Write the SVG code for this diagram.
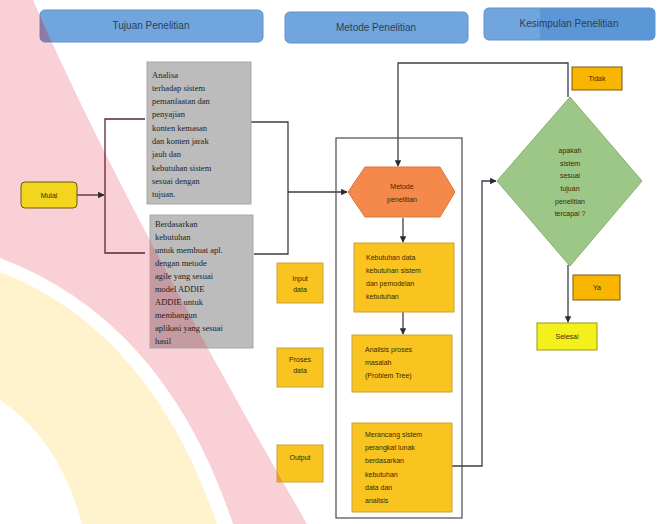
<svg xmlns="http://www.w3.org/2000/svg" width="658" height="524" viewBox="0 0 658 524">
<style>
.hdr{fill:#70a6dd;stroke:#5f93c8;stroke-width:1}
.ht{font-family:"Liberation Sans",Arial,sans-serif;font-size:10px;fill:#2b3f55;text-anchor:middle}
.gray{fill:#bcbcbc;stroke:#a8a8a8;stroke-width:1}
.gt{font-family:"Liberation Serif","Times New Roman",serif;font-size:8.5px;fill:#1e1e1e}
.yb{fill:#f9c320;stroke:#c9a23a;stroke-width:1}
.yt{font-family:"Liberation Sans",Arial,sans-serif;font-size:7px;fill:#3a2a00}
.ct{text-anchor:middle}
.lbl{fill:#f8b600;stroke:#7a5a10;stroke-width:1}
.ln{fill:none;stroke:#3c3c48;stroke-width:1.3}
.lnp{fill:none;stroke:#5a2535;stroke-width:1.3}
</style>
<defs>
<marker id="ar" viewBox="0 0 10 10" refX="9" refY="5" markerWidth="5" markerHeight="5" orient="auto-start-reverse">
<path d="M0,0 L10,5 L0,10 z" fill="#2a2a35"/>
</marker>
<clipPath id="g2clip"><rect x="150" y="215" width="103" height="133"/></clipPath>
<clipPath id="s3clip"><rect x="277" y="445" width="46" height="37"/></clipPath>
<clipPath id="h1clip"><rect x="40" y="10" width="223" height="32" rx="5"/></clipPath>
</defs>
<rect width="658" height="524" fill="#ffffff"/>
<g id="background">
<path id="pinkband" d="M0,0 L33,0 Q120,200 307,524 L233,524 Q165,320 0,258 Z" fill="#f8d0d5"/>
<path d="M0,272 Q150,330 217,524 L82,524 Q60,440 0,400 Z" fill="#fef3cc"/>
</g>
<g id="headers">
<g id="h1"><rect class="hdr" x="40" y="10" width="223" height="32" rx="5"/>
<path d="M0,0 L33,0 Q120,200 307,524 L233,524 Q165,320 0,258 Z" fill="#a06080" clip-path="url(#h1clip)" opacity="0.6"/>
<text class="ht" x="151" y="29">Tujuan Penelitian</text></g>
<g id="h2"><rect class="hdr" x="285" y="12" width="183" height="31" rx="5"/><text class="ht" x="376" y="31">Metode Penelitian</text></g>
<g id="h3"><rect class="hdr" x="484" y="8" width="171" height="32" rx="5"/><path d="M540,8 L650,8 Q655,8 655,13 L655,35 Q655,40 650,40 L540,40 Z" fill="#5b97d6"/><text class="ht" x="569" y="27">Kesimpulan Penelitian</text></g>
</g>
<g id="connectors">
<path class="lnp" d="M77,195 L104,195" marker-end="url(#ar)"/>
<path class="lnp" d="M145,119 L105,119 L105,253 L145,253"/>
<path class="ln" d="M251,122 L288,122 L288,254 L254,254"/>
<path class="ln" d="M288,192 L347,192" marker-end="url(#ar)"/>
<path class="ln" d="M568,97 L568,63 L398,63 L398,166" marker-end="url(#ar)"/>
<path class="ln" d="M403,218 L403,242" marker-end="url(#ar)"/>
<path class="ln" d="M403,312 L403,334" marker-end="url(#ar)"/>
<path class="ln" d="M452,466 L482,466 L482,181 L496,181" marker-end="url(#ar)"/>
<path class="ln" d="M568,265 L568,322" marker-end="url(#ar)"/>
<rect x="336" y="138" width="126" height="380" fill="none" stroke="#4a4a55" stroke-width="1.2"/>
</g>
<g id="mulai"><rect x="21" y="182" width="56" height="26" rx="4" fill="#f2d51c" stroke="#6a5a10" stroke-width="1"/><text class="yt ct" x="49" y="198">Mulai</text></g>
<g id="tujuan1"><rect class="gray" x="147" y="62" width="104" height="142"/>
<text class="gt" x="152" y="78">Analisa</text>
<text class="gt" x="152" y="91">terhadap sistem</text>
<text class="gt" x="152" y="104">pemanfaatan dan</text>
<text class="gt" x="152" y="117">penyajian</text>
<text class="gt" x="152" y="131">konten kemasan</text>
<text class="gt" x="152" y="144">dan konten jarak</text>
<text class="gt" x="152" y="157">jauh dan</text>
<text class="gt" x="152" y="171">kebutuhan sistem</text>
<text class="gt" x="152" y="184">sesuai dengan</text>
<text class="gt" x="152" y="197">tujuan.</text>
</g>
<g id="tujuan2"><rect class="gray" x="150" y="215" width="103" height="133"/>
<path d="M0,0 L33,0 Q120,200 307,524 L233,524 Q165,320 0,258 Z" fill="#c98f98" clip-path="url(#g2clip)" opacity="0.75"/>
<text class="gt" x="155" y="227">Berdasarkan</text>
<text class="gt" x="155" y="240">kebutuhan</text>
<text class="gt" x="155" y="253">untuk membuat apl.</text>
<text class="gt" x="155" y="266">dengan metode</text>
<text class="gt" x="155" y="279">agile yang sesuai</text>
<text class="gt" x="155" y="292">model ADDIE</text>
<text class="gt" x="155" y="305">ADDIE untuk</text>
<text class="gt" x="155" y="318">membangun</text>
<text class="gt" x="155" y="331">aplikasi yang sesuai</text>
<text class="gt" x="155" y="344">hasil</text>
</g>
<g id="metode"><path d="M365,167 L440,167 L455,192 L440,217 L365,217 L348,192 Z" fill="#f4894b" stroke="#d9743a" stroke-width="1"/>
<text class="yt ct" x="402" y="189">Metode</text><text class="yt ct" x="402" y="202">penelitian</text></g>
<g id="stepA"><rect class="yb" x="354" y="243" width="100" height="69"/>
<text class="yt" x="366" y="260">Kebutuhan data</text>
<text class="yt" x="366" y="273">kebutuhan sistem</text>
<text class="yt" x="366" y="286">dan pemodelan</text>
<text class="yt" x="366" y="299">kebutuhan</text></g>
<g id="stepB"><rect class="yb" x="352" y="335" width="100" height="57"/>
<text class="yt" x="365" y="352">Analisis proses</text>
<text class="yt" x="365" y="365">masalah</text>
<text class="yt" x="365" y="378">(Problem Tree)</text></g>
<g id="stepC"><rect class="yb" x="352" y="423" width="100" height="89"/>
<text class="yt" x="365" y="437">Merancang sistem</text>
<text class="yt" x="365" y="450">perangkat lunak</text>
<text class="yt" x="365" y="463">berdasarkan</text>
<text class="yt" x="365" y="477">kebutuhan</text>
<text class="yt" x="365" y="490">data dan</text>
<text class="yt" x="365" y="503">analisis</text></g>
<g id="side1"><rect class="yb" x="277" y="263" width="46" height="40"/>
<text class="yt ct" x="300" y="281">Input</text><text class="yt ct" x="300" y="292">data</text></g>
<g id="side2"><rect class="yb" x="277" y="348" width="46" height="39"/>
<text class="yt ct" x="300" y="362">Proses</text><text class="yt ct" x="300" y="373">data</text></g>
<g id="side3"><rect class="yb" x="277" y="445" width="46" height="37"/>
<path d="M0,0 L33,0 Q120,200 307,524 L233,524 Q165,320 0,258 Z" fill="#e88a40" clip-path="url(#s3clip)" opacity="0.7"/>
<text class="yt ct" x="300" y="460">Output</text></g>
<g id="keputusan"><path d="M570,97 L642,181 L570,266 L497,181 Z" fill="#9cc787" stroke="#86b070" stroke-width="1"/>
<text class="yt ct" x="570" y="153">apakah</text>
<text class="yt ct" x="570" y="166">sistem</text>
<text class="yt ct" x="570" y="178">sesuai</text>
<text class="yt ct" x="570" y="191">tujuan</text>
<text class="yt ct" x="570" y="204">penelitian</text>
<text class="yt ct" x="570" y="216">tercapai ?</text></g>
<g id="tidak"><rect class="lbl" x="572" y="67" width="50" height="23"/><text class="yt ct" x="597" y="81">Tidak</text></g>
<g id="ya"><rect class="lbl" x="573" y="275" width="47" height="25"/><text class="yt ct" x="597" y="290">Ya</text></g>
<g id="selesai"><rect x="537" y="323" width="60" height="27" fill="#f3f01c" stroke="#9a9a10" stroke-width="1"/><text class="yt ct" x="567" y="339">Selesai</text></g>
</svg>
